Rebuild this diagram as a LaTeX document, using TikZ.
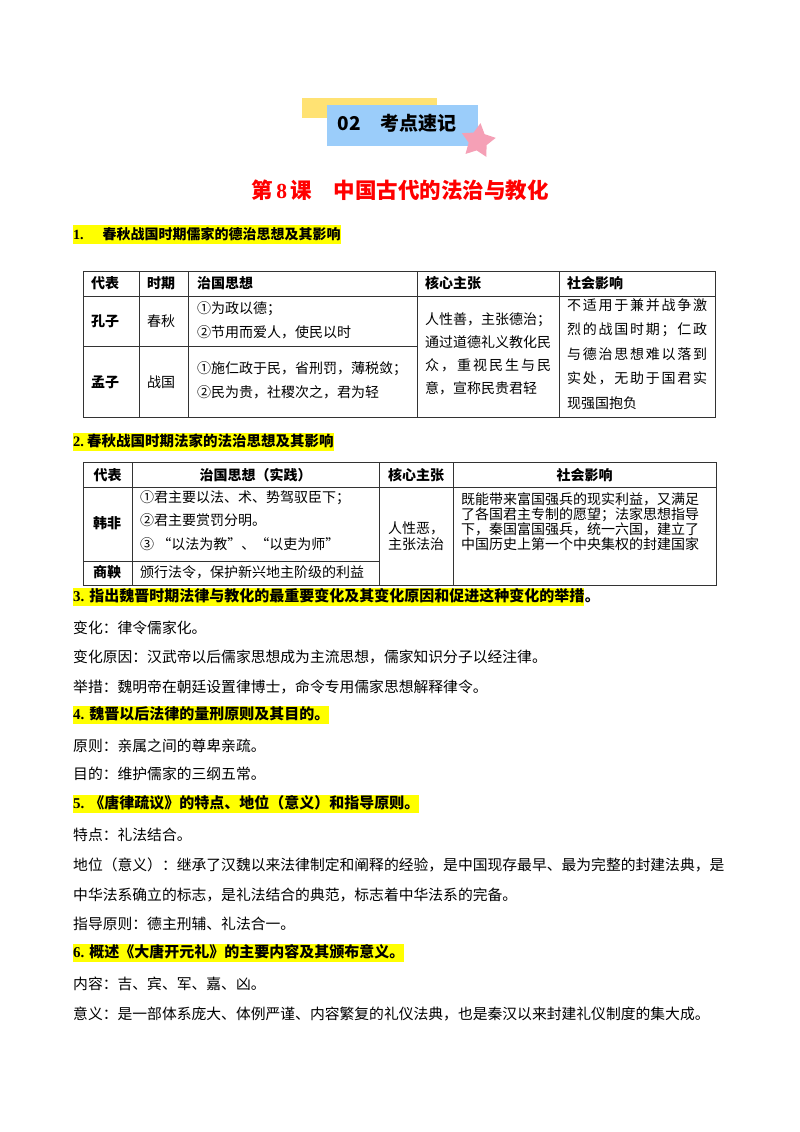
\documentclass[tikz,border=0pt]{standalone}
\usepackage{fontspec}
\setmainfont{Liberation Serif}
\newfontfamily\cjk{Noto Sans CJK SC}
\usetikzlibrary{positioning,shapes.geometric}
\definecolor{tagyellow}{RGB}{255,226,115}
\definecolor{tagblue}{RGB}{155,205,250}
\definecolor{tagpink}{RGB}{245,160,182}
\definecolor{marker}{RGB}{255,255,0}
\definecolor{titlered}{RGB}{255,0,0}
\makeatletter
\newcommand\spreadline[2]{\makebox[#1][s]{\@tfor\spr@ch:=#2\do{\spr@ch\hfill}\unskip}}
\makeatother
\begin{document}
\begin{tikzpicture}[
       x=1pt, y=-1pt,
       grid/.style={draw=black!80, line width=0.8pt},
       cell/.style={anchor=west, inner sep=0pt, align=left, font=\cjk\fontsize{14}{24}\selectfont},
       hcell/.style={cell, font=\cjk\bfseries\fontsize{14}{16}\selectfont},
       body/.style={anchor=west, inner sep=0pt, font=\cjk\fontsize{14.8}{17}\selectfont},
       hilite/.style={anchor=west, fill=marker, inner xsep=0pt, inner ysep=1.5pt, text height=12.5pt, text depth=3pt, font=\cjk\bfseries\fontsize{15}{17}\selectfont}
   ]
   \fill[white] (0,0) rectangle (800,1132);
   \useasboundingbox (0,0) rectangle (800,1132);

   % tag and title
   \fill[tagyellow] (302,98) rectangle (437,118);
   \node[fill=tagblue, minimum width=151pt, minimum height=41pt, inner sep=0pt] (tagbox) at (402.5,125.5) {};
   \node[inner sep=0pt, font=\cjk\bfseries\fontsize{19}{22}\selectfont] (tagtext) at (397,123) {02　考点速记};
   \node[star, star points=5, star point ratio=1.9, fill=tagpink, minimum size=36pt, inner sep=0pt, rotate=-8] (star) at (478,141) {};
   \node[inner sep=0pt, text=titlered, font=\cjk\bfseries\fontsize{21.5}{24}\selectfont] (title) at (400,190) {第\,{\rmfamily 8}\,课　中国古代的法治与教化};

   % part 1
   \node[hilite, font=\cjk\bfseries\fontsize{14}{16}\selectfont] (h1) at (73,234.5) {{\rmfamily 1.}\hspace{19pt}春秋战国时期儒家的德治思想及其影响};

   \draw[grid] (83,271) rectangle (715,417);
   \draw[grid] (83,296) -- (715,296);
   \draw[grid] (83,346) -- (417,346);
   \draw[grid] (139,271) -- (139,417);
   \draw[grid] (188,271) -- (188,417);
   \draw[grid] (417,271) -- (417,417);
   \draw[grid] (559,271) -- (559,417);

   \node[hcell] (ruRep) at (91,283) {代表};
   \node[hcell] (ruTime) at (147,283) {时期};
   \node[hcell] (ruIdea) at (197,283) {治国思想};
   \node[hcell] (ruCore) at (425,283) {核心主张};
   \node[hcell] (ruEffect) at (567,283) {社会影响};

   \node[hcell] (kongzi) at (91,321) {孔子};
   \node[cell] (chunqiu) at (147,321) {春秋};
   \node[cell] (kongIdea) at (197,320) {①为政以德；\\②节用而爱人，使民以时};
   \node[hcell] (mengzi) at (91,382) {孟子};
   \node[cell] (zhanguo) at (147,382) {战国};
   \node[cell] (mengIdea) at (197,380) {①施仁政于民，省刑罚，薄税敛；\\②民为贵，社稷次之，君为轻};

   \node[cell, font=\cjk\fontsize{14}{23}\selectfont] (ruCoreText) at (425,353.5) {人性善，主张德治；\\\spreadline{126pt}{通过道德礼义教化民}\\\spreadline{126pt}{众，重视民生与民}\\意，宣称民贵君轻};
   \node[cell, font=\cjk\fontsize{14}{24.5}\selectfont] (ruEffectText) at (567,354) {\spreadline{140pt}{不适用于兼并战争激}\\\spreadline{140pt}{烈的战国时期；仁政}\\\spreadline{140pt}{与德治思想难以落到}\\\spreadline{140pt}{实处，无助于国君实}\\现强国抱负};

   % part 2
   \node[hilite, font=\cjk\bfseries\fontsize{14.5}{16}\selectfont] (h2) at (73,442) {{\rmfamily 2.}\hspace{3pt}春秋战国时期法家的法治思想及其影响};

   \draw[grid] (83,462) rectangle (716,585);
   \draw[grid] (83,487) -- (716,487);
   \draw[grid] (83,561) -- (379,561);
   \draw[grid] (132,462) -- (132,585);
   \draw[grid] (379,462) -- (379,585);
   \draw[grid] (453,462) -- (453,585);

   \node[hcell, anchor=center] (faRep) at (107.5,475) {代表};
   \node[hcell, anchor=center] (faIdea) at (255.5,475) {治国思想（实践）};
   \node[hcell, anchor=center] (faCore) at (416,475) {核心主张};
   \node[hcell, anchor=center] (faEffect) at (584.5,475) {社会影响};

   \node[hcell] (hanfei) at (93,523) {韩非};
   \node[cell, font=\cjk\fontsize{14}{23.5}\selectfont] (hanIdea) at (140,520.5) {①君主要以法、术、势驾驭臣下；\\②君主要赏罚分明。\\③ “以法为教”、“以吏为师”};
   \node[hcell] (shangyang) at (93,572) {商鞅};
   \node[cell] (shangIdea) at (140,572) {颁行法令，保护新兴地主阶级的利益};

   \node[cell, anchor=center, align=center, font=\cjk\fontsize{14}{16}\selectfont] (faCoreText) at (416,536) {人性恶，\\主张法治};
   \node[cell, font=\cjk\fontsize{14}{15}\selectfont] (faEffectText) at (461,521.5) {既能带来富国强兵的现实利益，又满足\\了各国君主专制的愿望；法家思想指导\\下，秦国富国强兵，统一六国，建立了\\中国历史上第一个中央集权的封建国家};

   % part 3
   \node[hilite] (h3) at (73,597) {{\rmfamily 3.}\hspace{5pt}指出魏晋时期法律与教化的最重要变化及其变化原因和促进这种变化的举措};
   \node[anchor=base west, inner sep=0pt, font=\cjk\bfseries\fontsize{15}{17}\selectfont] (h3dot) at (h3.base east) {。};
   \node[body] (change) at (73,628) {变化：律令儒家化。};
   \node[body] (cause) at (73,657) {变化原因：汉武帝以后儒家思想成为主流思想，儒家知识分子以经注律。};
   \node[body] (measure) at (73,687) {举措：魏明帝在朝廷设置律博士，命令专用儒家思想解释律令。};

   % part 4
   \node[hilite] (h4) at (73,715) {{\rmfamily 4.}\hspace{5pt}魏晋以后法律的量刑原则及其目的。};
   \node[body] (principle) at (73,746) {原则：亲属之间的尊卑亲疏。};
   \node[body] (purpose) at (73,774) {目的：维护儒家的三纲五常。};

   % part 5
   \node[hilite] (h5) at (73,804) {{\rmfamily 5.}\hspace{5pt}《唐律疏议》的特点、地位（意义）和指导原则。};
   \node[body] (feature) at (73,835) {特点：礼法结合。};
   \node[body] (status) at (73,865) {地位（意义）：继承了汉魏以来法律制定和阐释的经验，是中国现存最早、最为完整的封建法典，是};
   \node[body] (statusb) at (73,895) {中华法系确立的标志，是礼法结合的典范，标志着中华法系的完备。};
   \node[body] (guide) at (73,924) {指导原则：德主刑辅、礼法合一。};

   % part 6
   \node[hilite] (h6) at (73,953) {{\rmfamily 6.}\hspace{5pt}概述《大唐开元礼》的主要内容及其颁布意义。};
   \node[body] (content) at (73,984) {内容：吉、宾、军、嘉、凶。};
   \node[body] (meaning) at (73,1014) {意义：是一部体系庞大、体例严谨、内容繁复的礼仪法典，也是秦汉以来封建礼仪制度的集大成。};
   \end{tikzpicture}
\end{document}
